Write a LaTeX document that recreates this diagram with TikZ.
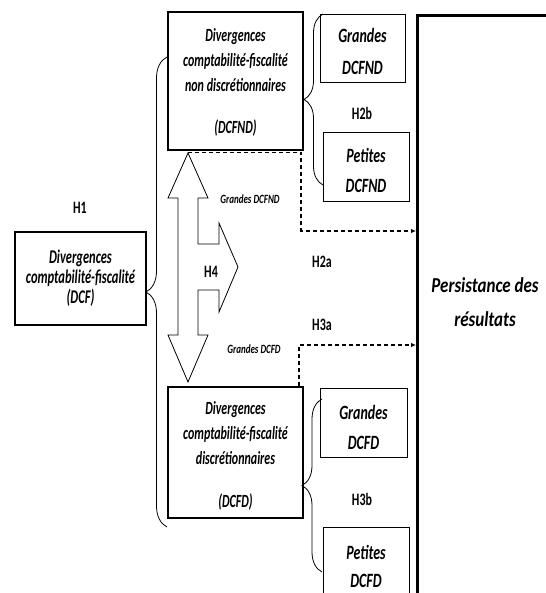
\documentclass[tikz,border=0pt]{standalone}
\usepackage{fontspec}
\setmainfont{Carlito}
\usetikzlibrary{decorations.pathreplacing,arrows.meta}
\newcommand{\vsa}[1]{\scalebox{1}[1.55]{#1}}
\newcommand{\vsb}[1]{\scalebox{1}[1.45]{#1}}
\newcommand{\vsc}[1]{\scalebox{1}[1.25]{#1}}
\newcommand{\vsd}[1]{\scalebox{1}[1.45]{#1}}
\begin{document}
\begin{tikzpicture}[x=1pt,y=-1pt,
  thickbox/.style={draw, line width=2.6pt, inner sep=0pt, align=center},
  thinbox/.style={draw, line width=0.8pt, inner sep=0pt, align=center},
  boxtext/.style={align=center, inner sep=0pt, font=\fontsize{14}{30}\selectfont\bfseries\itshape},
  maintext/.style={align=center, inner sep=0pt, font=\fontsize{12}{25}\selectfont\bfseries\itshape},
  hlab/.style={font=\fontsize{12}{14}\selectfont\bfseries, inner sep=0pt},
  smalllab/.style={font=\fontsize{9}{11}\selectfont\bfseries\itshape, inner sep=0pt},
  bracestyle/.style={decorate, decoration={brace, amplitude=#1}, line width=0.8pt},
  dashline/.style={line width=1.1pt, dash pattern=on 4pt off 3pt, -{Latex[length=5pt,width=4.5pt]}},
  blockarrow/.style={draw, line width=0.8pt, fill=white, line join=miter}
]
\useasboundingbox (0,0) rectangle (545,593);

% Persistance box
\node[draw, line width=2.8pt, minimum width=200pt, minimum height=640pt, anchor=north west, inner sep=0pt] (pers) at (416,14) {};
\node[align=center, inner sep=0pt, font=\fontsize{17}{34}\selectfont\bfseries\itshape] (perstext) at (485,302) {\vsc{Persistance des}\\\vsc{résultats}};

% main boxes
\node[thickbox, minimum width=131pt, minimum height=93pt] (dcf) at (80.5,278.5) {};
\node[maintext, font=\fontsize{12.5}{20}\selectfont\bfseries\itshape] (dcftext) at (80.5,278) {\vsa{Divergences}\\\vsa{comptabilité-fiscalité}\\\vsa{(DCF)}};

\node[thickbox, minimum width=135pt, minimum height=138pt] (dcfnd) at (235.5,81) {};
\node[maintext] (dcfndtext) at (235.5,82) {\vsa{Divergences}\\\vsa{comptabilité-fiscalité}\\\vsa{non discrétionnaires}\\[17pt]\vsa{(DCFND)}};

\node[thickbox, minimum width=135pt, minimum height=131pt] (dcfd) at (235.5,452.5) {};
\node[maintext] (dcfdtext) at (235.5,456) {\vsa{Divergences}\\\vsa{comptabilité-fiscalité}\\\vsa{discrétionnaires}\\[18pt]\vsa{(DCFD)}};

% small boxes
\node[thinbox, minimum width=85pt, minimum height=68pt] (gdcfnd) at (362.5,48) {};
\node[boxtext, font=\fontsize{14}{32}\selectfont\bfseries\itshape] (gdcfndtext) at (362.5,51) {\vsb{Grandes}\\\vsb{DCFND}};
\node[thinbox, minimum width=86pt, minimum height=69pt] (pdcfnd) at (366,166.5) {};
\node[boxtext] (pdcfndtext) at (366,170) {\vsb{Petites}\\\vsb{DCFND}};
\node[thinbox, minimum width=87pt, minimum height=69pt] (gdcfd) at (363.5,422.5) {};
\node[boxtext] (gdcfdtext) at (363.5,427) {\vsb{Grandes}\\\vsb{DCFD}};
\node[draw, line width=0.8pt, inner sep=0pt, minimum width=86pt, minimum height=100pt, anchor=north] (pdcfd) at (366,527) {};
\node[boxtext, font=\fontsize{14}{28}\selectfont\bfseries\itshape] (pdcfdtext) at (366,566) {\vsb{Petites}\\\vsb{DCFD}};

% braces
\coordinate (b1top) at (167,57);
\coordinate (b1bot) at (167,527);
\coordinate (b2top) at (323,14);
\coordinate (b2bot) at (323,185);
\coordinate (b3top) at (322,399);
\coordinate (b3bot) at (322,572);
\draw[bracestyle=21pt] (b1bot) -- (b1top);
\draw[bracestyle=19pt] (b2bot) -- (b2top);
\draw[bracestyle=20pt] (b3bot) -- (b3top);

% block arrows (H4)
\draw[blockarrow] (188,153) -- (208,198) -- (198,198) -- (198,244) -- (219,244) -- (219,223)
  -- (238,267) -- (219,312) -- (219,290) -- (198,290) -- (198,335) -- (208,335)
  -- (188,382) -- (168,335) -- (178,335) -- (178,198) -- (168,198) -- cycle;

% dashed connectors
\coordinate (u0) at (188,152.5);
\coordinate (u1) at (301,152.5);
\coordinate (u2) at (301,231);
\coordinate (l1) at (299,386);
\coordinate (l2) at (299,345);
\draw[dashline] (u0) -- (u1) -- (u2) -- (u2 -| pers.west);
\draw[dashline] (l1) -- (l2) -- (l2 -| pers.west);

% labels
\node[hlab] (h1) at (80,208) {\vsd{H1}};
\node[hlab] (h2b) at (362,113) {\vsd{H2b}};
\node[hlab] (h4) at (211,272) {\vsd{H4}};
\node[hlab] (h2a) at (322,262) {\vsd{H2a}};
\node[hlab] (h3a) at (322,325) {\vsd{H3a}};
\node[hlab] (h3b) at (362,499) {\vsd{H3b}};
\node[smalllab] (gl1) at (250,199.5) {\scalebox{1}[1.4]{Grandes DCFND}};
\node[smalllab] (gl2) at (254,349.5) {\scalebox{1}[1.4]{Grandes DCFD}};
\end{tikzpicture}
\end{document}
